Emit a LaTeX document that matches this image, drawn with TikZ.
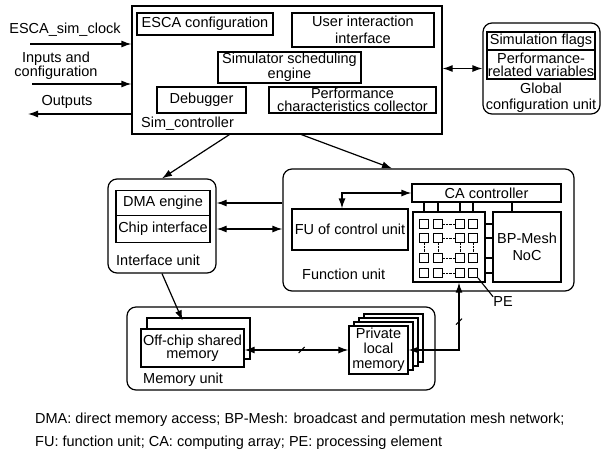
\documentclass[tikz,border=0pt]{standalone}
\usepackage{fontspec}
\setmainfont{Liberation Sans}
\usetikzlibrary{arrows.meta,calc}
\tikzset{
    % Blocks of the simulator: plain boxes, rounded units and the small PE squares
    block/.style={draw,line width=1.2pt,inner sep=1pt,align=center,fill=white},
    unit/.style={draw,line width=1.2pt,rounded corners=9pt},
    pe/.style={draw,line width=1.1pt,minimum size=9pt,inner sep=0pt},
    txt/.style={inner sep=0pt,align=center},
    % Connectors: one head or two heads
    link/.style={line width=1.2pt,-{Latex[length=10pt,width=7pt]}},
    dlink/.style={line width=1.2pt,{Latex[length=10pt,width=7pt]}-{Latex[length=10pt,width=7pt]}},
    bus/.style={line width=1.1pt}
    }

\begin{document}
\begin{tikzpicture}[x=1pt,y=-1pt,font=\fontsize{14.5}{15}\selectfont] % one unit is one pixel, y runs down
        \useasboundingbox (0,0) rectangle (601,453);
        % Sim_controller
        \node[block,minimum width=310,minimum height=128] (simctrl) at (287,70) {};
        \node[block,minimum width=136,minimum height=22] (escacfg) at (205,24) {ESCA configuration};
        \node[block,minimum width=142,minimum height=34,font=\fontsize{14.5}{17}\selectfont] (userif) at (363,30) {User interaction\\interface};
        \node[block,minimum width=143,minimum height=31,font=\fontsize{14.5}{13}\selectfont] (sched) at (289.5,67.5) {Simulator scheduling\\engine};
        \node[block,minimum width=89,minimum height=26] (debug) at (201.5,100) {Debugger};
        \node[block,inner sep=0pt,minimum width=167,minimum height=26,font=\fontsize{14.5}{13}\selectfont] (perfcol) at (352.5,100) {Performance\\characteristics collector};
        \node[txt,anchor=west] (simlbl) at (141,124) {Sim\_controller};
        % inputs and outputs
        \node[txt] (clklbl) at (65,30) {ESCA\_sim\_clock};
        \node[txt,font=\fontsize{14.5}{14}\selectfont] (inlbl) at (56,66) {Inputs and\\configuration};
        \node[txt] (outlbl) at (67,102) {Outputs};
        \coordinate (clkin) at (30,44);
        \coordinate (cfgin) at (32,84);
        \coordinate (outend) at (28,114);
        \draw[link] (clkin) -- (clkin -| simctrl.west);
        \draw[link] (cfgin) -- (cfgin -| simctrl.west);
        \draw[link] (outend -| simctrl.west) -- (outend);
        % Global configuration unit
        \node[unit,minimum width=117,minimum height=91] (gcu) at (541.5,68.5) {};
        \node[block,minimum width=108,minimum height=18] (simflags) at (541,41) {Simulation flags};
        \node[block,inner sep=0pt,minimum width=108,minimum height=29,font=\fontsize{14.5}{13}\selectfont] (perfvars) at (541,64.5) {Performance-\\related variables};
        \node[txt,font=\fontsize{14.5}{16}\selectfont] (gculbl) at (541,98) {Global\\configuration unit};
        \draw[dlink] (simctrl.east |- gcu.west) -- (gcu.west);
        % Interface unit
        \node[unit,minimum width=108,minimum height=94] (ifu) at (162,226) {};
        \node[block,minimum width=94,minimum height=25] (dma) at (163,203) {DMA engine};
        \node[block,minimum width=94,minimum height=27] (chipif) at (163,229) {Chip interface};
        \node[txt,anchor=west] (ifulbl) at (116,260) {Interface unit};
        % Function unit
        \node[unit,minimum width=291,minimum height=122] (fu) at (428.5,230) {};
        \node[block,minimum width=149,minimum height=18] (cactrl) at (486.5,193) {CA controller};
        \node[block,minimum width=116,minimum height=41] (fuctrl) at (350,229.5) {FU of control unit};
        \node[block,minimum width=72,minimum height=70] (pearr) at (449,247) {};
        \node[block,minimum width=68,minimum height=70,font=\fontsize{14.5}{17}\selectfont] (bpmesh) at (527,247) {BP-Mesh\\NoC};
        \node[txt,anchor=west] (fulbl) at (302,274) {Function unit};
        \node[txt] (pelbl) at (503,302) {PE};
        % the computing array
        \foreach \c/\x in {1/424,2/438,3/460,4/473}
            \foreach \r/\y in {1/224,2/238,3/258,4/273}
                \node[pe] (pe\r\c) at (\x,\y) {};
        \foreach \r in {1,...,4} {
            \draw[densely dotted] (pe\r2.east) -- (pe\r3.west);
            \draw[bus] (pe\r4 -| pearr.east) -- (pe\r4 -| bpmesh.west);
            }
        \foreach \c in {1,...,4} {
            \draw[densely dotted] (pe2\c.south) -- (pe3\c.north);
            \draw[bus] (pe1\c |- cactrl.south) -- (pe1\c |- pearr.north);
            }
        \draw[bus] ([xshift=-15pt]bpmesh.north) -- ++(0,-10);
        \draw[bus] (pe44.south east) -- (pelbl.north west);
        \draw[dlink] ([xshift=-8pt]fuctrl.north) |- (cactrl.west);
        % Memory unit
        \node[unit,minimum width=308,minimum height=83] (mu) at (281,348.5) {};
        \node[block,minimum width=103,minimum height=41] (offback) at (198.5,338.5) {};
        \node[block,inner sep=0pt,minimum width=103,minimum height=38,font=\fontsize{14.5}{13}\selectfont] (offchip) at (192.5,348) {Off-chip shared\\memory};
        \foreach \k in {3,2,1}
            \node[block,minimum width=59,minimum height=48] (pmback\k) at (378.5+5*\k,350-4*\k) {};
        \node[block,minimum width=59,minimum height=48] (privmem) at (378.5,350) {Private\\local\\memory};
        \node[txt,anchor=west] (mulbl) at (143,380) {Memory unit};
        % connections between the units
        \draw[link] ([xshift=98pt]simctrl.south west) -- (ifu.north);
        \draw[link] ([xshift=170pt]simctrl.south west) -- ([xshift=-36.5pt]fu.north);
        \draw[link] (fu.west |- dma.east) -- (ifu.east |- dma.east);
        \draw[dlink] (ifu.east |- chipif.east) -- (fu.west |- chipif.east);
        \draw[link] (ifu.south) -- ([xshift=-16pt,yshift=-3pt]offback.north);
        \draw[dlink] (offchip.east |- privmem.west) -- coordinate[pos=0.55] (cut1) (privmem.west);
        \draw[dlink] (privmem.east) -| coordinate[pos=0.71] (cut2) ([xshift=10pt]pearr.south);
        \draw[bus] ([shift={(-3,3)}]cut1) -- ([shift={(3,-3)}]cut1); % bus width marks
        \draw[bus] ([shift={(-3,3)}]cut2) -- ([shift={(3,-3)}]cut2);
        % abbreviations
        \node[txt,anchor=west] (cap1) at (35,420) {DMA: direct memory access; BP-Mesh: broadcast and permutation mesh network;};
        \node[txt,anchor=west] (cap2) at (35,443) {FU: function unit; CA: computing array; PE: processing element};
\end{tikzpicture}
\end{document}
